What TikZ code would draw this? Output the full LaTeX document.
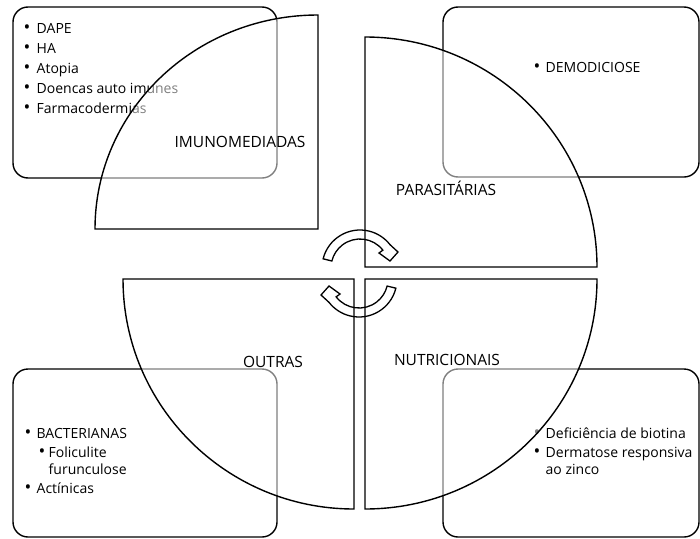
\documentclass[tikz,border=0pt]{standalone}
\usepackage{fontspec}
\setmainfont{Open Sans}
\usetikzlibrary{positioning}

\newcommand{\bul}[1]{\makebox[#1][l]{\raisebox{-0.8pt}{\fontsize{18}{18}\selectfont\textbullet}}}

\begin{document}
\begin{tikzpicture}[x=1pt, y=-1pt, line width=1.4pt,
  txtbox/.style={draw, rounded corners=15pt},
  quarter/.style={draw, fill=white, fill opacity=0.5, draw opacity=1},
  qlabel/.style={inner sep=0pt, font=\fontsize{15.5}{18}\selectfont},
  item/.style={anchor=base west, inner sep=0pt, font=\fontsize{14}{17}\selectfont},
  cyclearrow/.style={draw, line width=1.3pt, line join=miter}]
  \useasboundingbox (0,0) rectangle (700,538);

  % text boxes behind the quarters
  \draw[txtbox] (13,7) rectangle (277,178);
  \draw[txtbox] (443,7) rectangle (699,177);
  \draw[txtbox] (13,369) rectangle (277,537);
  \draw[txtbox] (443,369) rectangle (699,537);

  \foreach \t [count=\i] in {DAPE, HA, Atopia, Doencas auto imunes, Farmacodermias}
    \node[item] (imu\i) at (23, 13+20*\i) {\bul{13pt}\t};
  \node[item] (par1) at (533,72) {\bul{12pt}DEMODICIOSE};
  \node[item] (out1) at (24,438) {\bul{12pt}BACTERIANAS};
  \node[item] (out2) at (38,457) {\bul{10pt}Foliculite};
  \node[item] (out3) at (48,474) {furunculose};
  \node[item] (out4) at (24,493) {\bul{12pt}Actínicas};
  \node[item] (nut1) at (533,438) {\bul{12pt}Deficiência de biotina};
  \node[item] (nut2) at (533,457) {\bul{12pt}Dermatose responsiva};
  \node[item] (nut3) at (545,474) {ao zinco};

  % quarters
  \draw[quarter] (95,229) arc[start angle=180, end angle=270, x radius=223, y radius=214] -- (318,229) -- cycle;
  \draw[quarter] (365,267) -- (365,37) arc[start angle=270, end angle=360, x radius=232, y radius=230] -- cycle;
  \draw[quarter] (123,279) -- (354,279) -- (354,509) arc[start angle=90, end angle=180, x radius=231, y radius=230] -- cycle;
  \draw[quarter] (365,279) -- (597,279) arc[start angle=0, end angle=90, x radius=232, y radius=230] -- cycle;

  \node[qlabel] (imuno) at (240,142) {IMUNOMEDIADAS};
  \node[qlabel] (paras) at (446,188) {PARASITÁRIAS};
  \node[qlabel] (outras) at (273,362) {OUTRAS};
  \node[qlabel] (nutri) at (447,360) {NUTRICIONAIS};

  % cycle arrows in the middle
  \draw[cyclearrow] (323.13,258.81) arc[start angle=194, end angle=322, radius=38]
    -- (398,252) -- (390,261) -- (379,253) -- (382.85,250.14)
    arc[start angle=322, end angle=194, radius=29] -- cycle;
  \draw[cyclearrow] (395.87,288.19) arc[start angle=14, end angle=142, radius=38]
    -- (321,295) -- (329,286) -- (340,294) -- (336.15,296.86)
    arc[start angle=142, end angle=14, radius=29] -- cycle;
\end{tikzpicture}
\end{document}
